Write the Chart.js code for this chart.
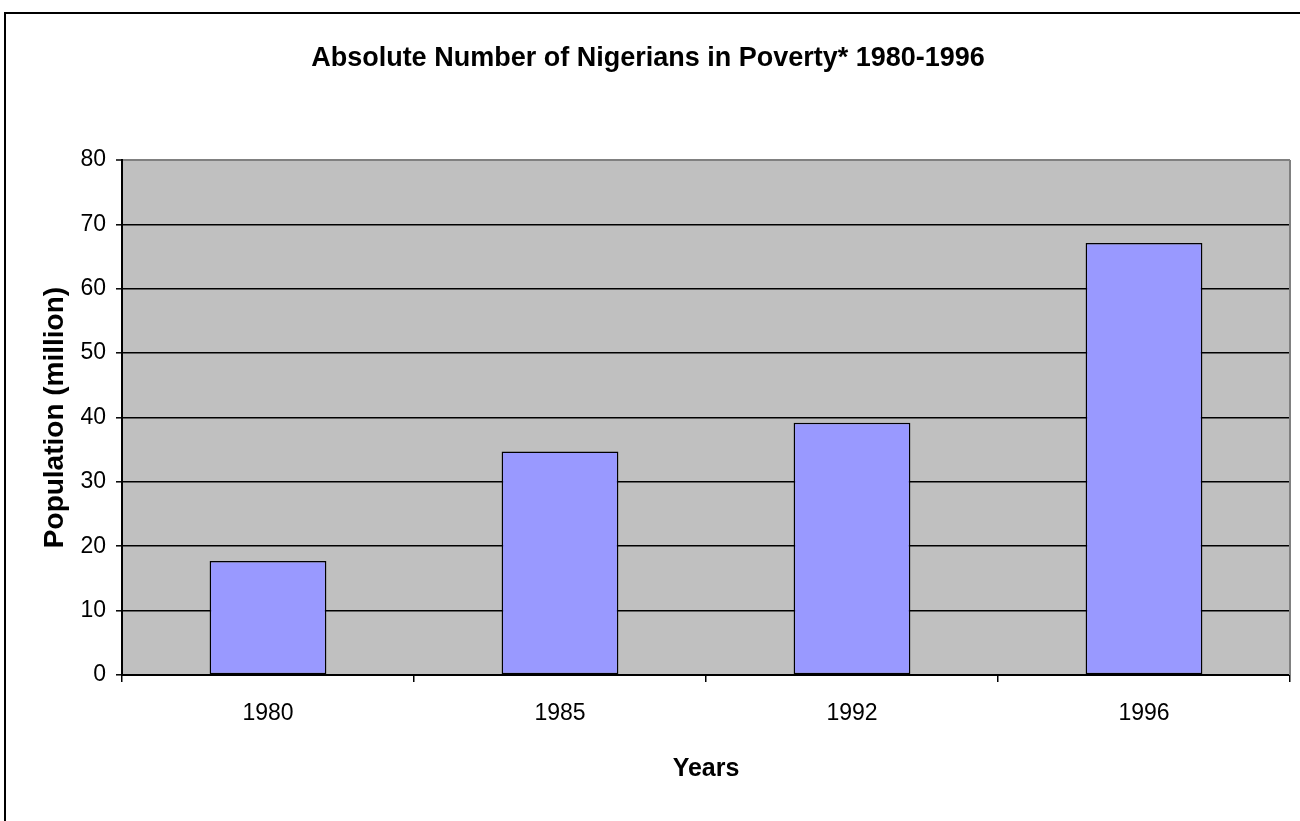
<!DOCTYPE html>
<html>
<head>
<meta charset="utf-8">
<script src="https://cdn.jsdelivr.net/npm/chart.js@4.4.1/dist/chart.umd.min.js"></script>
<style>
    body { margin: 0; background: #fff; }
    #frame {
        position: absolute;
        left: 4px;
        top: 12px;
        border-top: 2px solid #000;
        border-left: 2px solid #000;
    }
    canvas { display: block; }
</style>
</head>
<body>
<div id="frame">
    <canvas id="chart" width="1294" height="807"></canvas>
</div>
<script>
const years = ["1980", "1985", "1992", "1996"];
const poorMillions = [17.7, 34.7, 39.2, 67.1];
const yTicks = [0, 10, 20, 30, 40, 50, 60, 70, 80];

const tickFont = { family: "'Liberation Sans', Arial", size: 23 };

// grey plot area with a grey frame on top and right
const plotArea = {
    id: "plotArea",
    beforeDraw(chart) {
        const { ctx, chartArea: a } = chart;
        ctx.save();
        ctx.fillStyle = "#c0c0c0";
        ctx.fillRect(a.left, a.top, a.right - a.left, a.bottom - a.top);
        ctx.restore();
    },
    afterDraw(chart) {
        const { ctx, chartArea: a } = chart;
        ctx.save();
        ctx.strokeStyle = "#808080";
        ctx.lineWidth = 2;
        ctx.beginPath();
        ctx.moveTo(a.right, a.bottom);
        ctx.lineTo(a.right, a.top);
        ctx.stroke();
        ctx.restore();
    }
};

new Chart(document.getElementById("chart"), {
    type: "bar",
    data: {
        labels: years,
        datasets: [{
            data: poorMillions,
            backgroundColor: "#9999ff",
            borderColor: "#000",
            borderWidth: 1.5,
            borderSkipped: false,
            barPercentage: 0.4,
            categoryPercentage: 1
        }]
    },
    options: {
        responsive: false,
        animation: false,
        layout: { padding: { left: 0, right: 10, top: 0, bottom: 0 } },
        plugins: {
            legend: { display: false },
            tooltip: { enabled: false },
            title: {
                display: true,
                text: "Absolute Number of Nigerians in Poverty* 1980-1996",
                color: "#000",
                font: { family: "'Liberation Sans', Arial", size: 27, weight: "bold" },
                padding: { top: 28, bottom: 85.6 }
            }
        },
        scales: {
            x: {
                grid: { display: true, drawOnChartArea: false, offset: true, color: "#000", tickLength: 7, lineWidth: 1.5 },
                border: { display: true, color: "#000", width: 2 },
                ticks: { color: "#000", font: tickFont, padding: 18 },
                title: {
                    display: true,
                    text: "Years",
                    color: "#000",
                    font: { family: "'Liberation Sans', Arial", size: 25, weight: "bold" },
                    padding: { top: 0, bottom: 37 }
                },
                afterFit(scale) { scale.height = 146; }
            },
            y: {
                min: 0,
                max: 80,
                afterBuildTicks(scale) { scale.ticks = yTicks.map(v => ({ value: v })); },
                grid: {
                    color: c => (c.tick && c.tick.value === 80 ? "#808080" : "#000"),
                    lineWidth: c => (c.tick && c.tick.value === 80 ? 2 : 1.6),
                    tickColor: "#000",
                    tickWidth: 1.5,
                    tickLength: 6
                },
                border: { display: true, color: "#000", width: 2 },
                ticks: { color: "#000", font: tickFont, padding: 10 },
                title: {
                    display: true,
                    text: "Population (million)",
                    color: "#000",
                    font: { family: "'Liberation Sans', Arial", size: 28, weight: "bold" },
                    padding: { top: 32, bottom: 0 }
                },
                afterFit(scale) { scale.width = 116; }
            }
        }
    },
    plugins: [plotArea]
});
</script>
</body>
</html>
